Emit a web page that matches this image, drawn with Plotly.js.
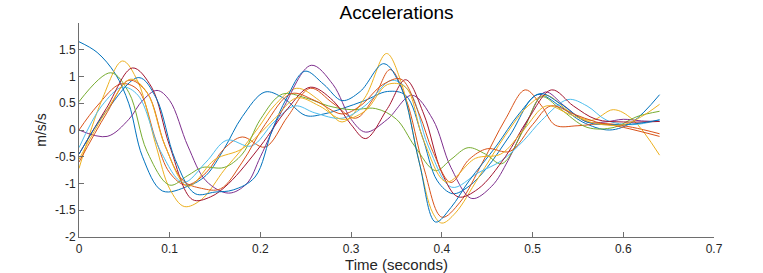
<!DOCTYPE html>
<html>
<head>
<meta charset="utf-8">
<script src="https://cdn.plot.ly/plotly-3.0.1.min.js"></script>
<style>html,body{margin:0;padding:0;background:#fff;}#chart{width:763px;height:273px;}</style>
</head>
<body>
<div id="chart"></div>
<script>
// Time (s) and acceleration (m/s/s) values, one pair of arrays per trace
const tBlueA = [0, 0.02, 0.04, 0.055, 0.07, 0.092, 0.12, 0.14, 0.16, 0.18, 0.205, 0.225, 0.25, 0.27, 0.29, 0.315, 0.34, 0.36, 0.378, 0.395, 0.412, 0.43, 0.45, 0.475, 0.505, 0.53, 0.555, 0.585, 0.61, 0.64];
const vBlueA = [1.65, 1.45, 1.05, 0.49, -0.5, -1.14, -1.05, -0.85, -0.35, 0.25, 0.71, 0.6, 0.27, 0.3, 0.4, 0.55, 0.72, 0.65, -0.1, -0.95, -1.19, -1.05, -0.7, -0.1, 0.66, 0.45, 0.15, 0.0, 0.15, 0.66];

const tOrangeA = [0, 0.02, 0.046, 0.065, 0.085, 0.1, 0.118, 0.14, 0.16, 0.18, 0.205, 0.23, 0.255, 0.28, 0.305, 0.325, 0.343, 0.36, 0.38, 0.4, 0.42, 0.445, 0.47, 0.492, 0.51, 0.525, 0.55, 0.58, 0.61, 0.64];
const vOrangeA = [0.0, 0.45, 0.86, 0.75, -0.2, -0.8, -1.03, -0.8, -0.35, -0.13, -0.32, 0.25, 0.78, 0.5, 0.22, 0.6, 1.13, 0.6, -0.7, -1.63, -1.35, -0.6, 0.2, 0.75, 0.45, 0.09, 0.08, 0.12, 0.05, -0.07];

const tYellowA = [0, 0.025, 0.048, 0.065, 0.085, 0.1, 0.116, 0.135, 0.16, 0.18, 0.198, 0.215, 0.24, 0.265, 0.29, 0.315, 0.339, 0.355, 0.375, 0.39, 0.4, 0.415, 0.44, 0.47, 0.495, 0.515, 0.54, 0.565, 0.589, 0.61, 0.64];
const vYellowA = [-0.72, 0.55, 1.29, 0.9, -0.3, -1.1, -1.43, -1.3, -0.75, -0.35, 0.05, 0.45, 0.78, 0.55, 0.15, 0.6, 1.43, 0.9, -0.6, -1.55, -1.74, -1.55, -0.9, -0.1, 0.45, 0.65, 0.35, 0.18, 0.38, 0.2, -0.47];

const tPurple = [0, 0.031, 0.055, 0.07, 0.086, 0.1, 0.12, 0.14, 0.165, 0.185, 0.2, 0.225, 0.256, 0.28, 0.3, 0.316, 0.34, 0.367, 0.39, 0.41, 0.433, 0.455, 0.473, 0.495, 0.514, 0.535, 0.56, 0.58, 0.6, 0.62, 0.64];
const vPurple = [0.0, -0.12, 0.2, 0.55, 0.74, 0.55, -0.3, -0.95, -1.18, -1.0, -0.5, 0.4, 1.21, 0.85, 0.2, -0.04, 0.2, 0.65, 0.2, -0.7, -1.28, -1.05, -0.57, 0.2, 0.71, 0.45, 0.15, 0.15, 0.2, 0.17, 0.16];

const tGreen = [0, 0.035, 0.055, 0.075, 0.1, 0.12, 0.136, 0.16, 0.18, 0.2, 0.224, 0.25, 0.275, 0.3, 0.327, 0.35, 0.37, 0.393, 0.41, 0.429, 0.448, 0.466, 0.49, 0.51, 0.53, 0.56, 0.59, 0.615, 0.64];
const vGreen = [0.53, 1.07, 0.7, -0.4, -1.03, -0.85, -0.7, -0.7, -0.45, 0.2, 0.67, 0.6, 0.45, 0.38, 0.4, 0.2, -0.3, -0.76, -0.55, -0.33, -0.45, -0.63, 0.0, 0.62, 0.4, 0.05, 0.05, 0.25, 0.35];

const tCyan = [0, 0.025, 0.048, 0.065, 0.09, 0.115, 0.14, 0.163, 0.19, 0.215, 0.238, 0.26, 0.29, 0.315, 0.345, 0.365, 0.385, 0.411, 0.44, 0.466, 0.49, 0.51, 0.539, 0.56, 0.582, 0.61, 0.64];
const vCyan = [-0.33, 0.45, 0.8, 0.65, -0.4, -0.98, -0.6, -0.19, -0.3, 0.15, 0.45, 0.32, 0.22, 0.45, 0.93, 0.7, -0.3, -1.07, -0.8, -0.57, -0.2, 0.18, 0.57, 0.45, 0.18, 0.1, 0.19];

const tDarkRed = [0, 0.03, 0.059, 0.08, 0.1, 0.125, 0.145, 0.165, 0.2, 0.23, 0.255, 0.28, 0.3, 0.316, 0.34, 0.36, 0.38, 0.4, 0.418, 0.44, 0.47, 0.495, 0.521, 0.545, 0.57, 0.6, 0.64];
const vDarkRed = [-0.45, 0.4, 1.16, 0.8, -0.3, -1.3, -1.25, -1.0, -0.3, 0.4, 0.8, 0.55, 0.1, -0.16, 0.4, 0.94, 0.3, -0.8, -1.25, -1.1, -0.5, 0.2, 0.75, 0.45, 0.2, 0.15, 0.16];

const tBlueB = [0, 0.03, 0.066, 0.085, 0.106, 0.128, 0.15, 0.17, 0.194, 0.213, 0.229, 0.249, 0.27, 0.29, 0.31, 0.336, 0.355, 0.375, 0.393, 0.41, 0.43, 0.46, 0.485, 0.508, 0.53, 0.56, 0.59, 0.615, 0.64];
const vBlueB = [-0.45, 0.35, 0.98, 0.6, -0.55, -1.19, -1.16, -1.12, -0.88, 0.0, 0.6, 1.1, 0.85, 0.55, 0.72, 1.24, 0.8, -0.6, -1.72, -1.45, -0.95, -0.3, 0.3, 0.68, 0.5, 0.15, 0.1, 0.12, 0.19];

const tOrangeB = [0, 0.03, 0.055, 0.075, 0.095, 0.115, 0.135, 0.156, 0.18, 0.205, 0.234, 0.26, 0.29, 0.31, 0.335, 0.355, 0.375, 0.39, 0.41, 0.43, 0.45, 0.475, 0.5, 0.52, 0.545, 0.57, 0.6, 0.64];
const vOrangeB = [-0.6, 0.3, 0.93, 0.7, -0.3, -0.95, -1.09, -1.1, -0.6, 0.1, 0.68, 0.55, 0.3, 0.45, 0.85, 0.95, 0.3, -0.4, -0.98, -0.55, -0.35, -0.4, 0.1, 0.45, 0.3, 0.15, 0.05, -0.12];

const tYellowB = [0, 0.03, 0.057, 0.075, 0.095, 0.12, 0.15, 0.18, 0.215, 0.24, 0.265, 0.29, 0.315, 0.34, 0.36, 0.38, 0.405, 0.437, 0.465, 0.49, 0.515, 0.54, 0.57, 0.6, 0.62, 0.64];
const vYellowB = [-0.55, 0.35, 0.95, 0.7, -0.3, -1.05, -0.55, -0.35, 0.2, 0.6, 0.45, 0.2, 0.35, 0.85, 0.8, -0.2, -0.97, -0.53, -0.45, 0.0, 0.45, 0.3, 0.12, 0.1, 0.25, 0.48];

const xTicks = [0, 0.1, 0.2, 0.3, 0.4, 0.5, 0.6, 0.7];
const yTicks = [-2, -1.5, -1, -0.5, 0, 0.5, 1, 1.5];

const series = [
  [tBlueA, vBlueA, '#0072BD'],
  [tOrangeA, vOrangeA, '#D95319'],
  [tYellowA, vYellowA, '#EDB120'],
  [tPurple, vPurple, '#7E2F8E'],
  [tGreen, vGreen, '#77AC30'],
  [tCyan, vCyan, '#4DBEEE'],
  [tDarkRed, vDarkRed, '#A2142F'],
  [tBlueB, vBlueB, '#0072BD'],
  [tOrangeB, vOrangeB, '#D95319'],
  [tYellowB, vYellowB, '#EDB120']
];

const traces = series.map(s => ({
  x: s[0], y: s[1], type: 'scatter', mode: 'lines',
  line: {color: s[2], width: 1, shape: 'spline', smoothing: 1},
  hoverinfo: 'skip'
}));

const FONT = 'Liberation Sans, Arial, Helvetica, sans-serif';
const axisCommon = {
  showline: true, linecolor: '#6e6e6e', linewidth: 1,
  ticks: 'inside', tickcolor: '#6e6e6e', ticklen: 5, tickwidth: 1,
  showgrid: false, zeroline: false, mirror: false,
  tickfont: {family: FONT, size: 12, color: '#262626'}
};

const layout = {
  width: 763, height: 273,
  margin: {l: 79, r: 49, t: 23, b: 36, pad: 0},
  paper_bgcolor: '#ffffff', plot_bgcolor: '#ffffff',
  showlegend: false,
  title: {text: 'Accelerations', font: {family: FONT, size: 19, color: '#000000'},
          x: 0.5, xref: 'paper', xanchor: 'center', y: 0.955, yref: 'container', yanchor: 'middle'},
  xaxis: Object.assign({}, axisCommon, {
    range: [0, 0.7], tickvals: xTicks, ticktext: xTicks.map(String), ticklabelstandoff: 1,
    title: {text: 'Time (seconds)', font: {family: FONT, size: 15, color: '#262626'}, standoff: 1}
  }),
  yaxis: Object.assign({}, axisCommon, {
    range: [-2, 2], tickvals: yTicks, ticktext: yTicks.map(String),
    title: {text: 'm/s/s', font: {family: FONT, size: 14, color: '#262626'}, standoff: 5}
  })
};

Plotly.newPlot('chart', traces, layout, {staticPlot: true, displayModeBar: false});
</script>
</body>
</html>
